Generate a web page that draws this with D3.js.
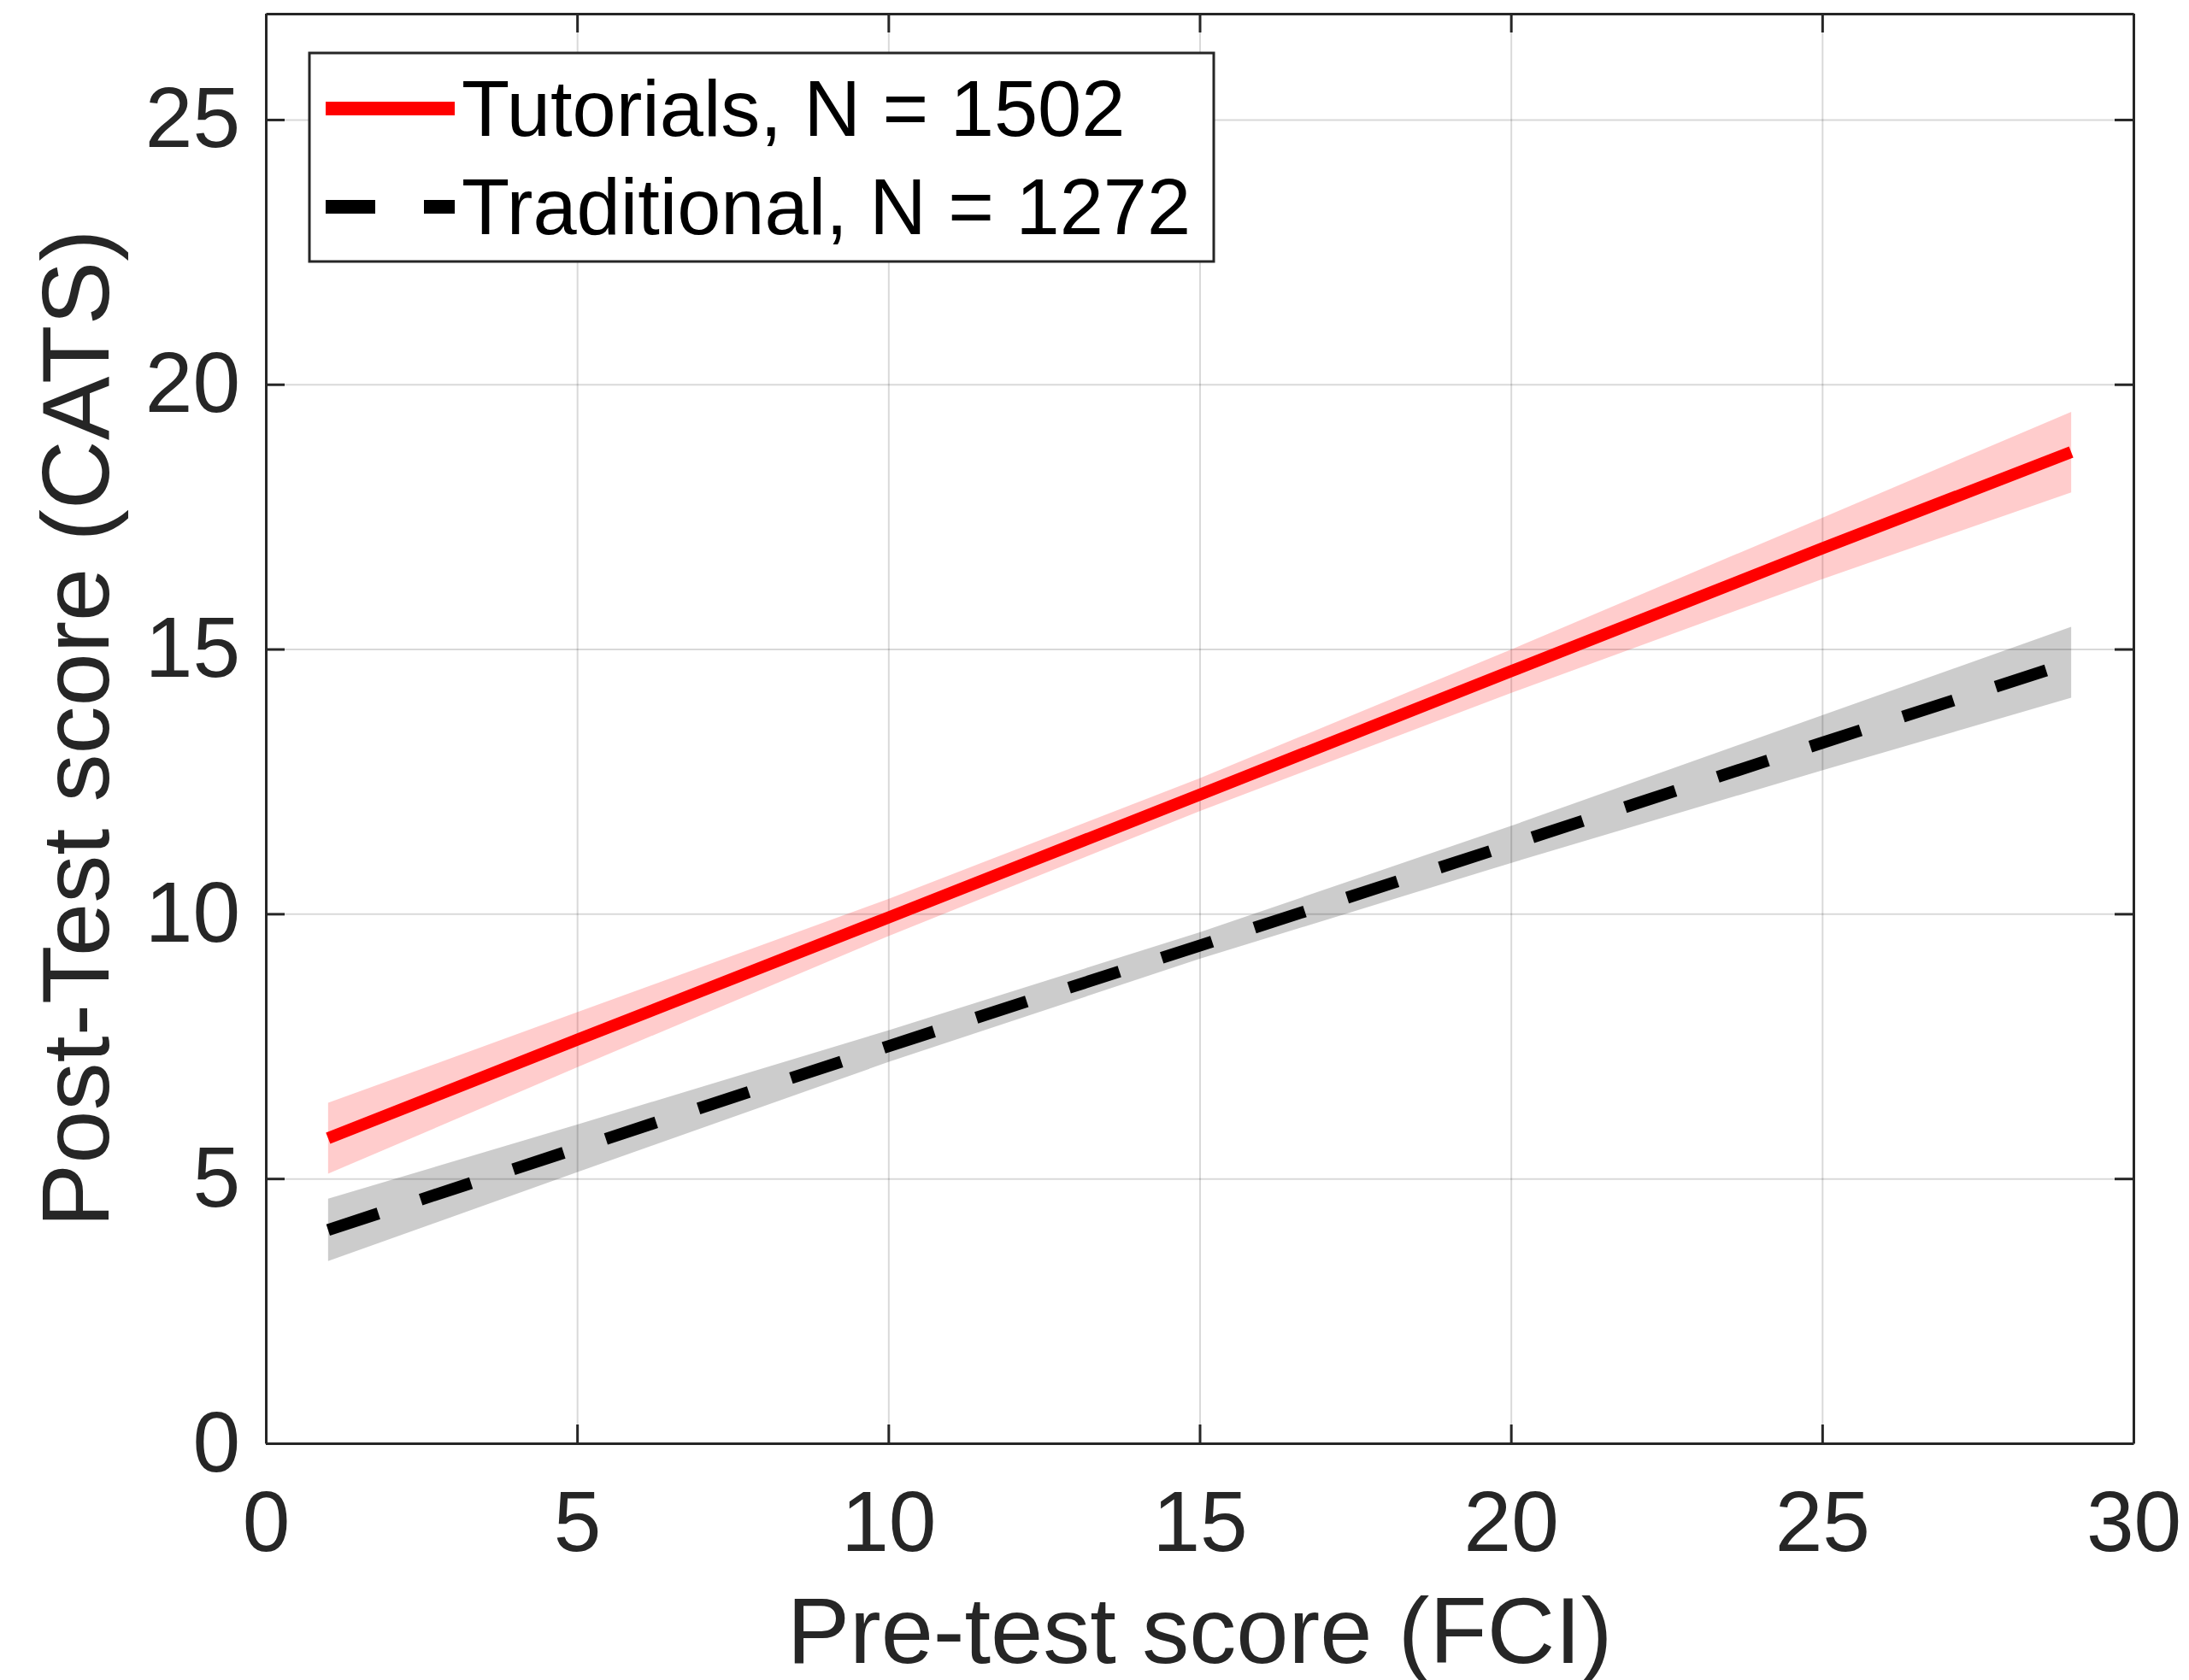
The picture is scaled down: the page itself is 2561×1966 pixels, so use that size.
<!DOCTYPE html>
<html>
<head>
<meta charset="utf-8">
<script src="https://cdn.jsdelivr.net/npm/d3@7"></script>
<style>
  body { margin: 0; background: #fff; }
  svg { display: block; font-family: "Liberation Sans", Arial, Helvetica, sans-serif; }
</style>
</head>
<body>
<div id="chart"></div>
<script>
'use strict';

// pre-test score (FCI) where the fits were sampled
const preScores = [1, 5, 10, 15, 20, 25, 29];

// Tutorials: fitted post-test score and 95% band
const tutFit   = [5.76, 7.62, 9.93, 12.25, 14.58, 16.90, 18.72];
const tutLower = [5.09, 7.10, 9.58, 11.94, 14.17, 16.32, 17.96];
const tutUpper = [6.43, 8.14, 10.28, 12.56, 14.99, 17.48, 19.48];

// Traditional: fitted post-test score and 95% band
const tradFit   = [4.03, 5.57, 7.50, 9.40, 11.31, 13.23, 14.75];
const tradLower = [3.44, 5.12, 7.20, 9.15, 10.96, 12.71, 14.08];
const tradUpper = [4.62, 6.02, 7.80, 9.65, 11.66, 13.75, 15.42];

const legendLabels = ["Tutorials, N = 1502", "Traditional, N = 1272"];
const xTicks = [0, 5, 10, 15, 20, 25, 30];
const yTicks = [0, 5, 10, 15, 20, 25];

const W = 2561, H = 1966;
const margin = {top: 16, right: 65, bottom: 277, left: 311};
const width = W - margin.left - margin.right,
      height = H - margin.top - margin.bottom;

const axisColor = "#262626";

const svg = d3.select("#chart").append("svg")
  .attr("width", W)
  .attr("height", H);

const g = svg.append("g")
  .attr("transform", "translate(" + margin.left + "," + margin.top + ")");

const x = d3.scaleLinear().domain([0, 30]).range([0, width]);
const y = d3.scaleLinear().domain([0, 27]).range([height, 0]);

// grid
g.append("g")
  .attr("class", "grid")
  .attr("transform", "translate(0," + height + ")")
  .call(d3.axisBottom(x).tickValues(xTicks).tickSize(-height).tickFormat(""));
g.append("g")
  .attr("class", "grid")
  .call(d3.axisLeft(y).tickValues(yTicks).tickSize(-width).tickFormat(""));
g.selectAll(".grid .domain").remove();
g.selectAll(".grid line")
  .attr("stroke", "#000")
  .attr("stroke-opacity", 0.15)
  .attr("stroke-width", 2);

// build series rows
const rows = (fit, lo, hi) => preScores.map((p, i) => ({x: p, fit: fit[i], lo: lo[i], hi: hi[i]}));
const series = [
  {name: legendLabels[0], color: "#ff0000", dash: null, data: rows(tutFit, tutLower, tutUpper)},
  {name: legendLabels[1], color: "#000000", dash: "62,52", data: rows(tradFit, tradLower, tradUpper)}
];

const area = d3.area()
  .x(d => x(d.x))
  .y0(d => y(d.lo))
  .y1(d => y(d.hi));

const line = d3.line()
  .x(d => x(d.x))
  .y(d => y(d.fit));

// confidence bands
g.selectAll("path.band")
  .data(series)
  .enter().append("path")
  .attr("class", "band")
  .attr("d", d => area(d.data))
  .attr("fill", d => d.color)
  .attr("fill-opacity", 0.2);

// fit lines
g.selectAll("path.fit")
  .data(series)
  .enter().append("path")
  .attr("class", "fit")
  .attr("d", d => line(d.data))
  .attr("fill", "none")
  .attr("stroke", d => d.color)
  .attr("stroke-width", 14)
  .attr("stroke-dasharray", d => d.dash);

// axes, ticks pointing in
const tickLen = 22;
const xAxis = g.append("g")
  .attr("transform", "translate(0," + height + ")")
  .call(d3.axisBottom(x).tickValues(xTicks).tickSizeInner(-tickLen).tickSizeOuter(0).tickPadding(55));
const yAxis = g.append("g")
  .call(d3.axisLeft(y).tickValues(yTicks).tickSizeInner(-tickLen).tickSizeOuter(0).tickPadding(30));
const xTop = g.append("g")
  .call(d3.axisTop(x).tickValues(xTicks).tickSizeInner(-tickLen).tickSizeOuter(0).tickFormat(""));
const yRight = g.append("g")
  .attr("transform", "translate(" + width + ",0)")
  .call(d3.axisRight(y).tickValues(yTicks).tickSizeInner(-tickLen).tickSizeOuter(0).tickFormat(""));

[xAxis, yAxis, xTop, yRight].forEach(a => {
  a.select(".domain").attr("stroke", axisColor).attr("stroke-width", 3);
  a.selectAll(".tick line").attr("stroke", axisColor).attr("stroke-width", 3);
  a.selectAll(".tick text")
    .attr("fill", axisColor)
    .style("font-size", "100px")
    .style("font-family", "'Liberation Sans', Arial, Helvetica, sans-serif");
});

// axis titles
g.append("text")
  .attr("x", width / 2)
  .attr("y", height + 257)
  .attr("text-anchor", "middle")
  .attr("fill", axisColor)
  .style("font-size", "110px")
  .text("Pre-test score (FCI)");

g.append("text")
  .attr("transform", "translate(" + (127 - margin.left) + "," + (height / 2) + ") rotate(-90)")
  .attr("text-anchor", "middle")
  .attr("fill", axisColor)
  .style("font-size", "112px")
  .text("Post-Test score (CATS)");

// legend
const legend = svg.append("g").attr("class", "legend");
legend.append("rect")
  .attr("x", 362).attr("y", 62)
  .attr("width", 1058).attr("height", 244)
  .attr("fill", "#fff")
  .attr("stroke", axisColor)
  .attr("stroke-width", 3);

const item = legend.selectAll("g.item")
  .data(series)
  .enter().append("g")
  .attr("class", "item")
  .attr("transform", (d, i) => "translate(0," + (127 + i * 115) + ")");

item.append("line")
  .attr("x1", 381).attr("x2", 532)
  .attr("y1", 0).attr("y2", 0)
  .attr("stroke", d => d.color)
  .attr("stroke-width", 16)
  .attr("stroke-dasharray", d => d.dash ? "58,57" : null);

item.append("text")
  .attr("x", 540)
  .attr("y", 32)
  .attr("fill", "#000")
  .style("font-size", "92px")
  .text(d => d.name);
</script>
</body>
</html>
